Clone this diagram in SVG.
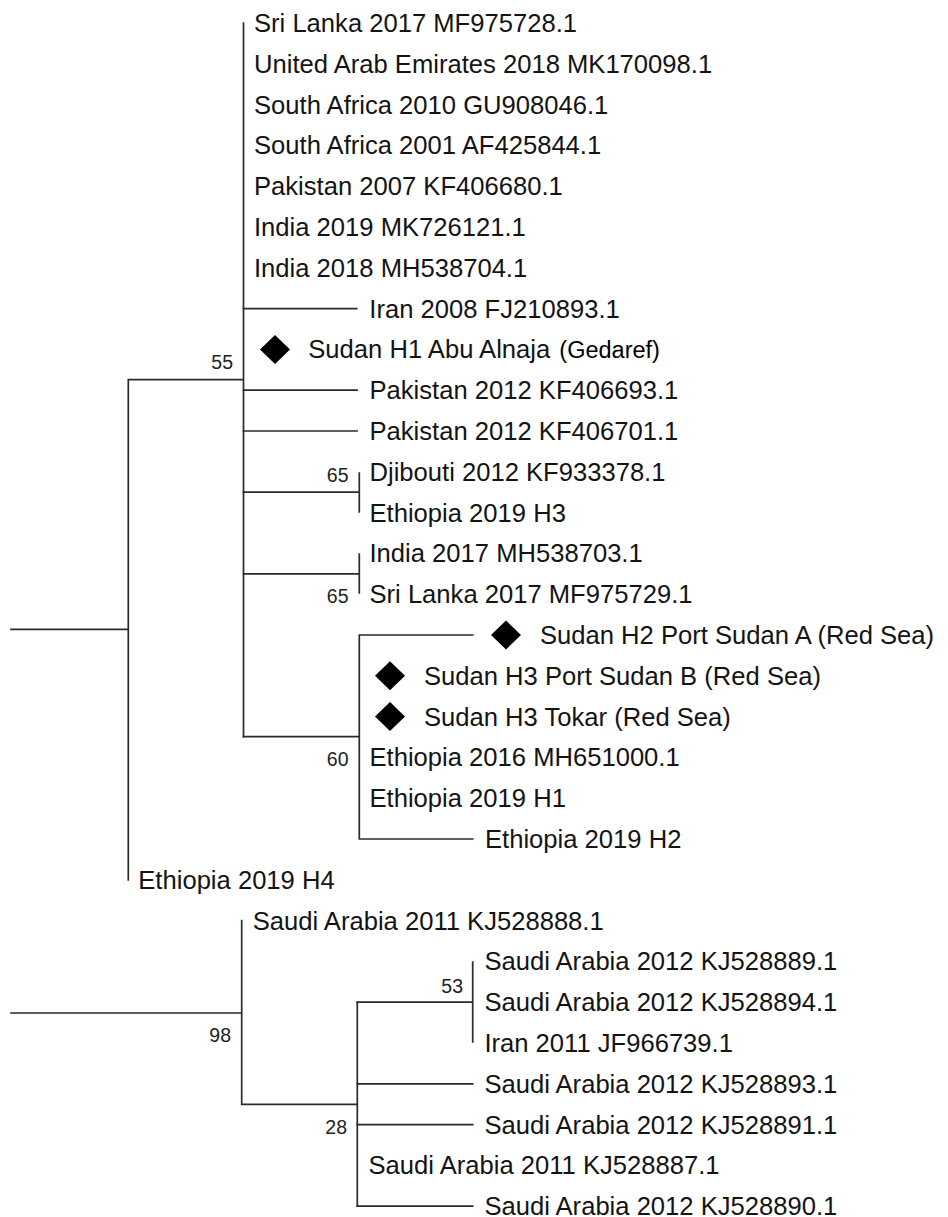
<svg xmlns="http://www.w3.org/2000/svg" width="948" height="1217" viewBox="0 0 948 1217">
<style>
.t{font-family:"Liberation Sans",Arial,sans-serif;font-size:25.6px;fill:#141414}
.g{font-family:"Liberation Sans",Arial,sans-serif;font-size:23.5px;fill:#000}
.b{font-family:"Liberation Sans",Arial,sans-serif;font-size:19.5px;fill:#222;text-anchor:end}
.e{stroke:#2a2a2a;stroke-width:1.7;fill:none;stroke-linecap:square}
.d{fill:#000}
</style>
<defs>
<polygon id="dia" points="0,-14.5 15,0 0,14.5 -15,0"/>
</defs>
<rect width="948" height="1217" fill="#fff"/>
<g id="connectors" class="e">
<path d="M11,629.4H128.3M128.3,379.6V879.8M128.3,379.6H243.5M243.5,23V736.7"/>
<path d="M243.5,308.6H356.7M243.5,390.2H357M243.5,431H357"/>
<path d="M243.5,492.2H359.3M359.3,473V512"/>
<path d="M243.5,573.8H359.3M359.3,554V593"/>
<path d="M243.5,736.7H359.3M359.3,635V839M359.3,635H472.7M359.3,839H472.7"/>
<path d="M11,1013H241.7M241.7,920.6V1104.3M241.7,1104.3H357.3M357.3,1002.2V1206.2"/>
<path d="M357.3,1002.2H472.7M472.7,962V1042"/>
<path d="M357.3,1083.8H472.7M357.3,1124.6H472.7M357.3,1206.2H472.7"/>
</g>
<g id="n0"><text class="t" x="254" y="32">Sri Lanka 2017 MF975728.1</text></g>
<g id="n1"><text class="t" x="254" y="72.8">United Arab Emirates 2018 MK170098.1</text></g>
<g id="n2"><text class="t" x="254" y="113.6">South Africa 2010 GU908046.1</text></g>
<g id="n3"><text class="t" x="254" y="154.4">South Africa 2001 AF425844.1</text></g>
<g id="n4"><text class="t" x="254" y="195.2">Pakistan 2007 KF406680.1</text></g>
<g id="n5"><text class="t" x="254" y="236">India 2019 MK726121.1</text></g>
<g id="n6"><text class="t" x="254" y="276.8">India 2018 MH538704.1</text></g>
<g id="n7"><text class="t" x="369.3" y="317.6">Iran 2008 FJ210893.1</text></g>
<g id="n8"><use href="#dia" class="d" x="275" y="349.4"/><text class="t" x="308.3" y="358.4">Sudan H1 Abu Alnaja <tspan class="g" dx="2">(Gedaref)</tspan></text></g>
<g id="n9"><text class="t" x="369.5" y="399.2">Pakistan 2012 KF406693.1</text></g>
<g id="n10"><text class="t" x="369.5" y="440">Pakistan 2012 KF406701.1</text></g>
<g id="n11"><text class="t" x="369.5" y="480.8">Djibouti 2012 KF933378.1</text></g>
<g id="n12"><text class="t" x="369.5" y="521.6">Ethiopia 2019 H3</text></g>
<g id="n13"><text class="t" x="369.5" y="562.4">India 2017 MH538703.1</text></g>
<g id="n14"><text class="t" x="369.5" y="603.2">Sri Lanka 2017 MF975729.1</text></g>
<g id="n15"><use href="#dia" class="d" x="506" y="635"/><text class="t" x="540" y="644">Sudan H2 Port Sudan A (Red Sea)</text></g>
<g id="n16"><use href="#dia" class="d" x="390" y="675.8"/><text class="t" x="424" y="684.8">Sudan H3 Port Sudan B (Red Sea)</text></g>
<g id="n17"><use href="#dia" class="d" x="390" y="716.6"/><text class="t" x="424" y="725.6">Sudan H3 Tokar (Red Sea)</text></g>
<g id="n18"><text class="t" x="369.5" y="766.4">Ethiopia 2016 MH651000.1</text></g>
<g id="n19"><text class="t" x="369.5" y="807.2">Ethiopia 2019 H1</text></g>
<g id="n20"><text class="t" x="485" y="848">Ethiopia 2019 H2</text></g>
<g id="n21"><text class="t" x="138.3" y="888.8">Ethiopia 2019 H4</text></g>
<g id="n22"><text class="t" x="252.7" y="929.6">Saudi Arabia 2011 KJ528888.1</text></g>
<g id="n23"><text class="t" x="484.4" y="970.4">Saudi Arabia 2012 KJ528889.1</text></g>
<g id="n24"><text class="t" x="484.4" y="1011.2">Saudi Arabia 2012 KJ528894.1</text></g>
<g id="n25"><text class="t" x="484.4" y="1052">Iran 2011 JF966739.1</text></g>
<g id="n26"><text class="t" x="484.4" y="1092.8">Saudi Arabia 2012 KJ528893.1</text></g>
<g id="n27"><text class="t" x="484.4" y="1133.6">Saudi Arabia 2012 KJ528891.1</text></g>
<g id="n28"><text class="t" x="368.5" y="1174.4">Saudi Arabia 2011 KJ528887.1</text></g>
<g id="n29"><text class="t" x="484.4" y="1215.2">Saudi Arabia 2012 KJ528890.1</text></g>
<g id="bootstrap">
<text class="b" x="233" y="369">55</text>
<text class="b" x="348.5" y="481.5">65</text>
<text class="b" x="348.5" y="602.5">65</text>
<text class="b" x="348.5" y="766">60</text>
<text class="b" x="231" y="1041.5">98</text>
<text class="b" x="347" y="1134">28</text>
<text class="b" x="463" y="992.5">53</text>
</g>
</svg>
